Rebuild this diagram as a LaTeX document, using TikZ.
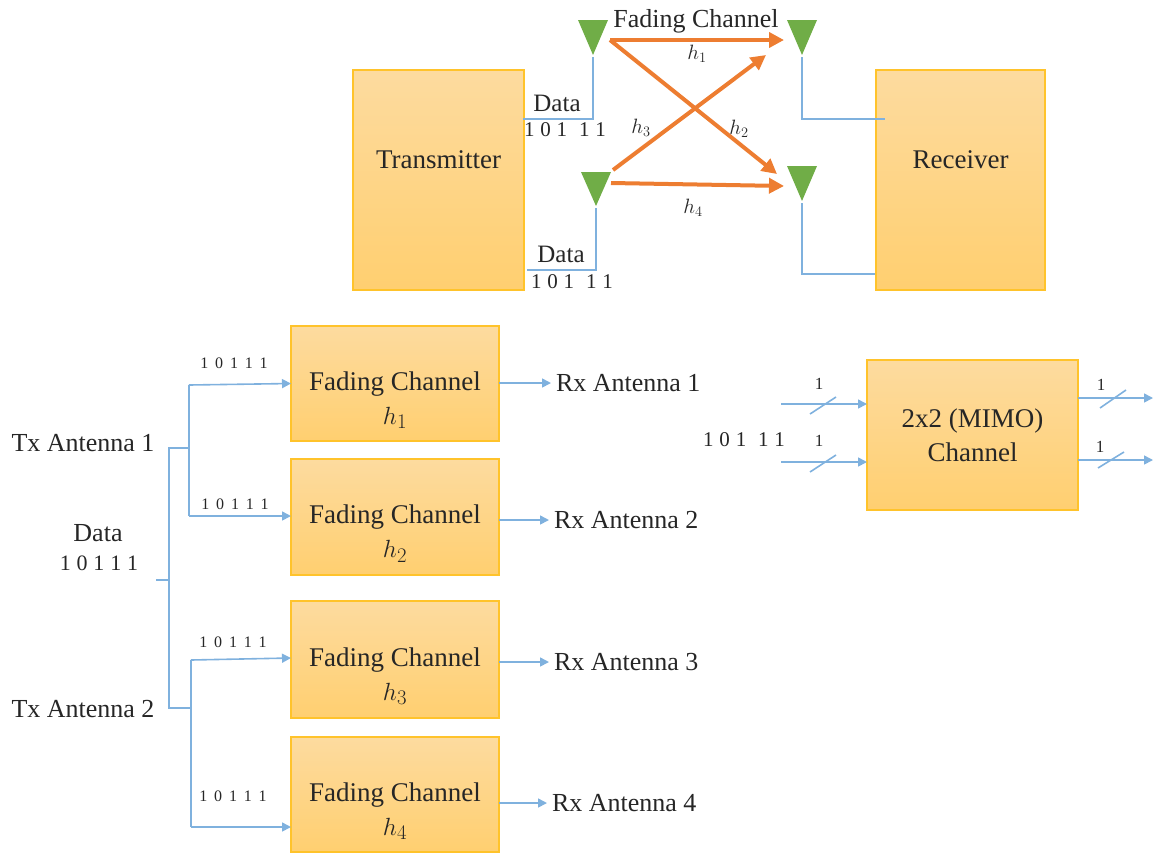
\documentclass[tikz,border=0pt]{standalone}
\usepackage{fontspec}
\setmainfont{Liberation Serif}
\usetikzlibrary{arrows.meta,calc}
\definecolor{wireblue}{HTML}{7FB1DE}
\definecolor{fadeorange}{HTML}{ED7D31}
\definecolor{antgreen}{HTML}{70AD47}
\definecolor{boxedge}{HTML}{FFC32B}
\definecolor{boxtop}{HTML}{FDDB9F}
\definecolor{boxbot}{HTML}{FFCF70}
\definecolor{inktext}{HTML}{262626}
\newcommand{\lbl}{\fontsize{26}{31}\selectfont}
\newcommand{\boxlbl}{\fontsize{27}{31}\selectfont}
\newcommand{\hsym}[1]{\fontsize{31}{31}\selectfont$h_{#1}$}
\newcommand{\hsmall}[1]{\fontsize{20}{22}\selectfont$h_{#1}$}
\newcommand{\fadetext}{\rule{0pt}{58pt}\raisebox{6pt}{Fading Channel}}
\newcommand{\bitsS}{\fontsize{16}{18}\selectfont\spaceskip=6.8pt\relax}
\newcommand{\bitsM}{\fontsize{21}{24}\selectfont\spaceskip=5.8pt\relax}
\newcommand{\bitsL}{\fontsize{22}{24}\selectfont\spaceskip=5.8pt\relax}
\tikzset{
  x=1pt,y=-1pt,
  every node/.style={text=inktext,inner sep=0pt,outer sep=0pt},
  goldbox/.style={draw=boxedge,line width=1.8pt,top color=boxtop,bottom color=boxbot,
    minimum width=#1,align=center,font=\boxlbl},
  goldbox/.default=208pt,
  wire/.style={draw=wireblue,line width=1.6pt},
  wirearrow/.style={wire,-{Triangle[length=9pt,width=9pt]}},
  chan/.style={draw=fadeorange,line width=4pt,-{Triangle[length=15pt,width=15pt]}},
  ant/.style={fill=antgreen,draw=none},
  lab/.style={font=\lbl},
  datalab/.style={font=\fontsize{25}{28}\selectfont},
  bitS/.style={font=\bitsS},
  bitM/.style={font=\bitsM},
  bitL/.style={font=\bitsL},
  cut/.style={draw=wireblue,line width=1.6pt},
  tiny1/.style={font=\fontsize{17}{20}\selectfont}
}
\begin{document}
\begin{tikzpicture}
\useasboundingbox (0,0) rectangle (1153,852);
% top boxes
\node[goldbox=171pt,minimum height=220pt] (tx) at (438.5,180) {\raisebox{40pt}{Transmitter}};
\node[goldbox=169pt,minimum height=220pt] (rx) at (960.5,180) {\raisebox{40pt}{Receiver}};
% antennas
\foreach \n/\xx/\yt/\yb in {a1/593/20/55,a2/596/172/206,a3/802/20/55,a4/802/166/201}{
  \fill[ant] (\xx-15,\yt) -- (\xx+15,\yt) -- (\xx,\yb) -- cycle;
  \coordinate (\n) at (\xx,\yb+2);
}
\coordinate (t1) at (523,119);
\coordinate (t2) at (527,270);
\draw[wire] (t1) -| (a1);
\draw[wire] (t2) -| (a2);
\coordinate (r1) at (885,119);
\coordinate (r2) at (875,274);
\draw[wire] (a3) |- (r1);
\draw[wire] (a4) |- (r2);
% channels
\coordinate (c1) at (610,40);
\coordinate (c2) at (613,170);
\coordinate (c4) at (611,183);
\coordinate (d1) at (784,40);
\coordinate (d2) at (777,174);
\coordinate (d3) at (766,55);
\coordinate (d4) at (784,186);
\draw[chan] (c1) -- (d1);
\draw[chan] (c1) -- (d2);
\draw[chan] (c2) -- (d3);
\draw[chan] (c4) -- (d4);
\node[lab] (fc) at (696,21) {Fading Channel};
\node (h1) at (697,54) {\hsmall{1}};
\node (h2) at (739,129) {\hsmall{2}};
\node (h3) at (641,128) {\hsmall{3}};
\node (h4) at (693,208) {\hsmall{4}};
\node[datalab] (dt1) at (557,103) {Data};
\node[datalab] (dt2) at (561,254) {Data};
\node[bitM] (b1) at (565,130) {1 0 1\hspace{6pt} 1 1};
\node[bitM] (b2) at (572,282) {1 0 1\hspace{6pt} 1 1};
% MIMO
\node[goldbox=211pt,minimum height=150pt] (mimo) at (972.5,435) {\raisebox{0pt}{2x2 (MIMO)}\\[3pt]Channel};
\coordinate (mi1) at (781,404);
\coordinate (mi2) at (781,462);
\coordinate (mo1) at (1153,398);
\coordinate (mo2) at (1153,460);
\draw[wirearrow] (mi1) -- (mi1 -| mimo.west);
\draw[wirearrow] (mi2) -- (mi2 -| mimo.west);
\draw[wirearrow] (mo1 -| mimo.east) -- (mo1);
\draw[wirearrow] (mo2 -| mimo.east) -- (mo2);
\draw[cut] (810,414) -- (836,397);
\draw[cut] (810,472) -- (836,455);
\draw[cut] (1100,408) -- (1126,390);
\draw[cut] (1098,468) -- (1124,452);
\node[tiny1] (n1) at (819,384) {1};
\node[tiny1] (n2) at (819,441) {1};
\node[tiny1] (n3) at (1101,385) {1};
\node[tiny1] (n4) at (1100,447) {1};
\node[bitM] (b3) at (744,440) {1 0 1\hspace{6pt} 1 1};
% fading boxes
\node[goldbox,minimum height=115pt,minimum width=208pt] (f1) at (395,383.5) {\fadetext\\[-3pt]\hsym{1}};
\node[goldbox,minimum height=116pt,minimum width=208pt] (f2) at (395,517) {\fadetext\\[-3pt]\hsym{2}};
\node[goldbox,minimum height=117pt,minimum width=208pt] (f3) at (395,659.5) {\fadetext\\[-3pt]\hsym{3}};
\node[goldbox,minimum height=115pt,minimum width=208pt] (f4) at (395,794.5) {\fadetext\\[-3pt]\hsym{4}};
% outputs
\node[lab,anchor=west] (o1) at (556,383) {Rx Antenna 1};
\node[lab,anchor=west] (o2) at (554,520) {Rx Antenna 2};
\node[lab,anchor=west] (o3) at (554,662) {Rx Antenna 3};
\node[lab,anchor=west] (o4) at (552,803) {Rx Antenna 4};
\draw[wirearrow] (f1.east |- o1.west) -- ([xshift=-5pt]o1.west);
\draw[wirearrow] (f2.east |- o2.west) -- ([xshift=-5pt]o2.west);
\draw[wirearrow] (f3.east |- o3.west) -- ([xshift=-5pt]o3.west);
\draw[wirearrow] (f4.east |- o4.west) -- ([xshift=-5pt]o4.west);
% tree
\node[lab] (tx1) at (83,443) {Tx Antenna 1};
\node[lab] (tx2) at (83,709) {Tx Antenna 2};
\node[font=\fontsize{26}{28}\selectfont] (dl) at (98,533) {Data};
\node[bitL] (bl) at (99,563) {1 0 1 1 1};
\coordinate (s0) at (156,580);
\coordinate (s1) at (169,580);
\coordinate (u) at (169,448);
\coordinate (v) at (169,708);
\coordinate (u1) at (189,448);
\coordinate (v1) at (191,708);
\draw[wire] (s0) -- (s1);
\draw[wire] (u1) -- (u) -- (v) -- (v1);
\coordinate (e1) at (189,385);
\coordinate (e2) at (189,516);
\coordinate (e3) at (191,660);
\coordinate (e4) at (191,827);
\draw[wire] (e1) -- (e2);
\draw[wire] (e3) -- (e4);
\draw[wirearrow] (e1) -- (f1.west);
\draw[wirearrow] (e2) -- (e2 -| f2.west);
\draw[wirearrow] (e3) -- ([yshift=1.5pt]f3.west);
\draw[wirearrow] (e4) -- (e4 -| f4.west);
\node[bitS] (s1b) at (234,363) {1 0 1 1 1};
\node[bitS] (s2b) at (235,504) {1 0 1 1 1};
\node[bitS] (s3b) at (233,642) {1 0 1 1 1};
\node[bitS] (s4b) at (233,796) {1 0 1 1 1};
\end{tikzpicture}
\end{document}
